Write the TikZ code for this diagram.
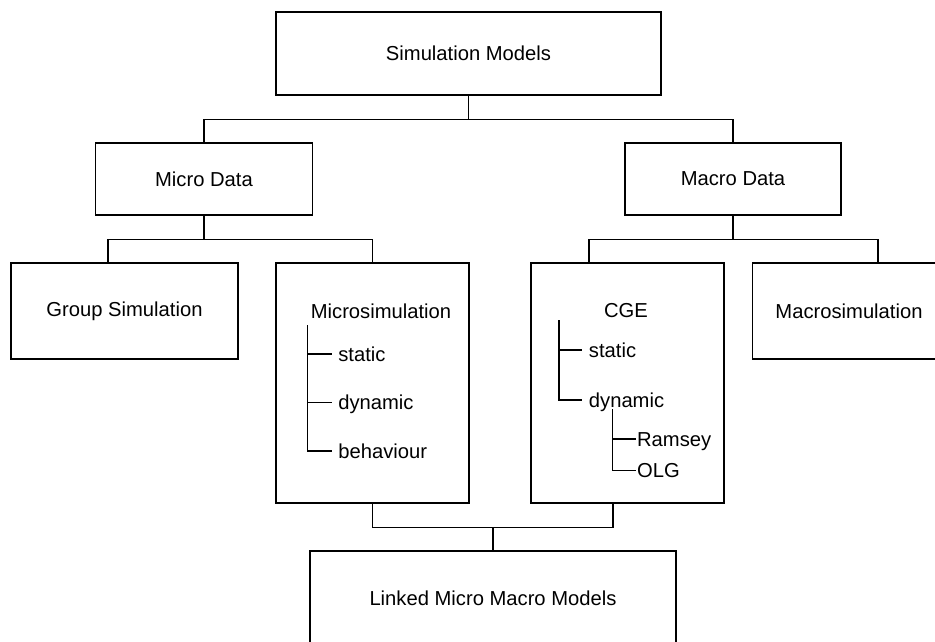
\documentclass[tikz,border=0pt]{standalone}
\usepackage{fontspec}
\setmainfont{Liberation Sans}
\begin{document}
\begin{tikzpicture}[
  x=1pt, y=-1pt,
  font=\fontsize{20.2pt}{24pt}\selectfont,
  line width=1.3pt,
  box/.style={draw, inner sep=0pt, align=center},
  item/.style={anchor=west, inner xsep=6pt, inner ysep=0pt, text height=14pt, text depth=0pt},
  subitem/.style={item, inner xsep=0.5pt}
]
\useasboundingbox (0,0) rectangle (935,642);
\clip (0,0) rectangle (935,642);
% boxes
\node[box, minimum width=385pt, minimum height=83pt] (sim) at (468.5,53.5) {Simulation Models};
\node[box, minimum width=217pt, minimum height=72pt] (micro) at (204,179) {Micro Data};
\node[box, minimum width=216pt, minimum height=72pt] (macro) at (733,179) {Macro Data};
\node[box, minimum width=227pt, minimum height=96pt] (group) at (124.5,311) {Group Simulation};
\node[box, minimum width=193pt, minimum height=240pt] (microsim) at (372.5,383) {};
\node[box, minimum width=193pt, minimum height=240pt] (cge) at (627.5,383) {};
\node[box, minimum width=193pt, minimum height=96pt] (macrosim) at (849,311) {Macrosimulation};
\node[box, minimum width=366pt, minimum height=94pt] (linked) at (493,598) {Linked Micro Macro Models};
% connectors
\draw (sim.south) -- ++(0,24) coordinate (sim-j);
\draw (micro.north) |- (sim-j) -| (macro.north);
\draw (micro.south) -- ++(0,24) coordinate (micro-j);
\draw ([xshift=-16.5pt]group.north) |- (micro-j) -| (microsim.north);
\draw (macro.south) -- ++(0,24) coordinate (macro-j);
\draw ([xshift=-38.5pt]cge.north) |- (macro-j) -| ([xshift=29pt]macrosim.north);
\draw (linked.north) -- ++(0,-23) coordinate (linked-j);
\draw (microsim.south) |- (linked-j) -| ([xshift=-14.5pt]cge.south);
% Microsimulation tree
\node (microsim-title) at (381,311) {Microsimulation};
\coordinate (ms-root) at (307.7,325);
\node[item] (ms-static) at (331.7,354) {static};
\node[item] (ms-dynamic) at (331.7,402.7) {dynamic};
\node[item] (ms-behaviour) at (331.7,451) {behaviour};
\foreach \leaf in {static,dynamic,behaviour}
  \draw (ms-root) |- (ms-\leaf.west);
% CGE tree
\node (cge-title) at (626,311) {CGE};
\coordinate (cge-root) at (559,320);
\node[item] (cge-static) at (582.3,350) {static};
\node[item] (cge-dynamic) at (582.3,400) {dynamic};
\foreach \leaf in {static,dynamic}
  \draw (cge-root) |- (cge-\leaf.west);
\coordinate (dyn-root) at (612.3,409);
\node[subitem] (cge-ramsey) at (636,439) {Ramsey};
\node[subitem] (cge-olg) at (636,470.7) {OLG};
\foreach \leaf in {ramsey,olg}
  \draw (dyn-root) |- (cge-\leaf.west);
\end{tikzpicture}
\end{document}
